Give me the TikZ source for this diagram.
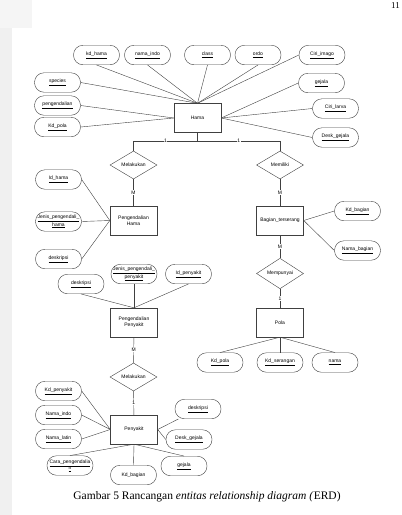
\documentclass[tikz,border=0pt]{standalone}
\usepackage{fontspec}
\setmainfont{Liberation Serif}
\newfontfamily\erdfont{Liberation Sans}
\usetikzlibrary{positioning, shapes.geometric}
\usepackage{xcolor}

\begin{document}
\begin{tikzpicture}[x=1pt, y=-1pt, font=\erdfont\fontsize{5}{6}\selectfont,
  ent/.style={draw=black!75, minimum width=47pt, minimum height=29pt, align=center, inner sep=1pt},
  atr/.style={draw=black!75, rounded corners=9.5pt, minimum width=46pt, minimum height=19.5pt,
              align=center, inner sep=1pt},
  rel/.style={draw=black!75, diamond, minimum width=47pt, minimum height=28pt, inner sep=0pt},
  card/.style={fill=white, inner sep=0.6pt},
  lnk/.style={draw=black!75, line width=0.4pt},
]
  \useasboundingbox (0,0) rectangle (402,515);
  \fill[black!6] (0,28) rectangle (12,515);
  \fill[black!4] (0,0) rectangle (32,28);
  \node[font=\rmfamily\fontsize{9}{10}\selectfont, anchor=north east, inner sep=1pt] (pageno) at (401,1) {11};

  % entitas
  \node[ent] (hama)    at (197.5,118)   {Hama};
  \node[ent] (penghama) at (133.5,220.5) {Pengendalian\\Hama};
  \node[ent] (bagian)  at (280,220.5)   {Bagian\_terserang};
  \node[ent] (pola)    at (280,322.5)   {Pola};
  \node[ent] (pengpny) at (134,322.5)   {Pengendalian\\Penyakit};
  \node[ent] (penyakit) at (134,429.5)  {Penyakit};

  % relasi
  \node[rel] (melakukanA) at (133.5,165) {Melakukan};
  \node[rel] (memiliki)   at (280,165)   {Memiliki};
  \node[rel] (mempunyai)  at (280,273.5) {Mempunyai};
  \node[rel] (melakukanB) at (133.5,377) {Melakukan};

  % atribut
  \foreach \xn/\xx/\xy/\xt in {%
    kdhama/96.5/55/{kd\_hama}, namaindo/147.5/55/{nama\_indo}, class/207.5/55/{class},
    ordo/258/55/{ordo}, ciriimago/322/55/{Ciri\_imago}, gejala/321.5/83/{gejala},
    cirilarva/335.5/108.5/{Ciri\_larva}, deskgejala/335.5/137.5/{Desk\_gejala},
    species/57.5/82.5/{species}, pengendalian/57.5/105.5/{pengendalian}, kdpola/57.5/127/{Kd\_pola},
    idhama/58.5/179.5/{Id\_hama}, deskripsiA/58.5/259/{deskripsi},
    kdbagian/357.5/211/{Kd\_bagian}, namabagian/357.5/250.5/{Nama\_bagian},
    deskripsiB/81/284/{deskripsi}, idpenyakit/188.5/274/{Id\_penyakit},
    kdpolaB/220/362.5/{Kd\_pola}, kdserangan/280/362.5/{Kd\_serangan}, nama/335/362.5/{nama},
    kdpenyakit/58.5/391/{Kd\_penyakit}, namaindoB/58.5/415/{Nama\_indo}, namalatin/58.5/439/{Nama\_latin},
    deskripsiC/198/409/{deskripsi}, deskgejalaB/189/439.5/{Desk\_gejala}, gejalaB/184/466/{gejala}%
  } {
    \node[atr] (\xn) at (\xx,\xy) {\underline{\xt}};
  }
  \node[atr] (jenishama) at (58.5,221.5) {\underline{Jenis\_pengendali\_}\\\underline{hama}};
  \node[atr] (jenispny)  at (134,274)    {\underline{Jenis\_pengendali\_}\\\underline{penyakit}};
  \node[atr] (carapeng)  at (70,465.5)   {\underline{Cara\_pengendalia}\\\underline{n}};
  \node[atr] (kdbagianB) at (133.5,475)  {Kd\_bagian};

  % garis atribut
  \foreach \xn in {kdhama, namaindo, class, ordo}
    \draw[lnk] (\xn.south) -- (hama.north);
  \draw[lnk] (ciriimago.west) -- (hama.north);
  \draw[lnk] (species.east) -- (hama.north);
  \foreach \xn in {pengendalian, kdpola}
    \draw[lnk] (\xn.east) -- (hama.west);
  \foreach \xn in {gejala, cirilarva, deskgejala}
    \draw[lnk] (\xn.west) -- (hama.east);
  \foreach \xn in {idhama, jenishama, deskripsiA}
    \draw[lnk] (\xn.east) -- (penghama.west);
  \foreach \xn in {kdbagian, namabagian}
    \draw[lnk] (\xn.west) -- (bagian.east);
  \foreach \xn in {deskripsiB, jenispny, idpenyakit}
    \draw[lnk] (\xn.south) -- (pengpny.north);
  \foreach \xn in {kdpolaB, kdserangan, nama}
    \draw[lnk] (\xn.north) -- (pola.south);
  \foreach \xn in {kdpenyakit, namaindoB, namalatin}
    \draw[lnk] (\xn.east) -- (penyakit.west);
  \foreach \xn in {carapeng, kdbagianB, gejalaB}
    \draw[lnk] (\xn.north) -- (penyakit.south);
  \draw[lnk] (deskripsiC) -- (penyakit.east);
  \draw[lnk] (deskgejalaB.west) -- (penyakit.east);

  % garis relasi
  \draw[lnk] (hama.south) -- ++(0,8) coordinate (split);
  \draw[lnk] (split) -| node[card, pos=0.25] {1} (melakukanA.north);
  \draw[lnk] (split) -| node[card, pos=0.25] {1} (memiliki.north);
  \draw[lnk] (melakukanA) -- node[card] {M} (penghama);
  \draw[lnk] (memiliki) -- node[card] {M} (bagian);
  \draw[lnk] (bagian) -- node[card] {M} (mempunyai);
  \draw[lnk] (mempunyai) -- node[card] {1} (pola);
  \draw[lnk] (pengpny) -- node[card] {M} (melakukanB);
  \draw[lnk] (melakukanB) -- node[card] {1} (penyakit);

  \node[font=\rmfamily\fontsize{11.5}{13}\selectfont] (caption) at (207,497)
    {Gambar 5 Rancangan \textit{entitas relationship diagram (}ERD)};
\end{tikzpicture}
\end{document}
